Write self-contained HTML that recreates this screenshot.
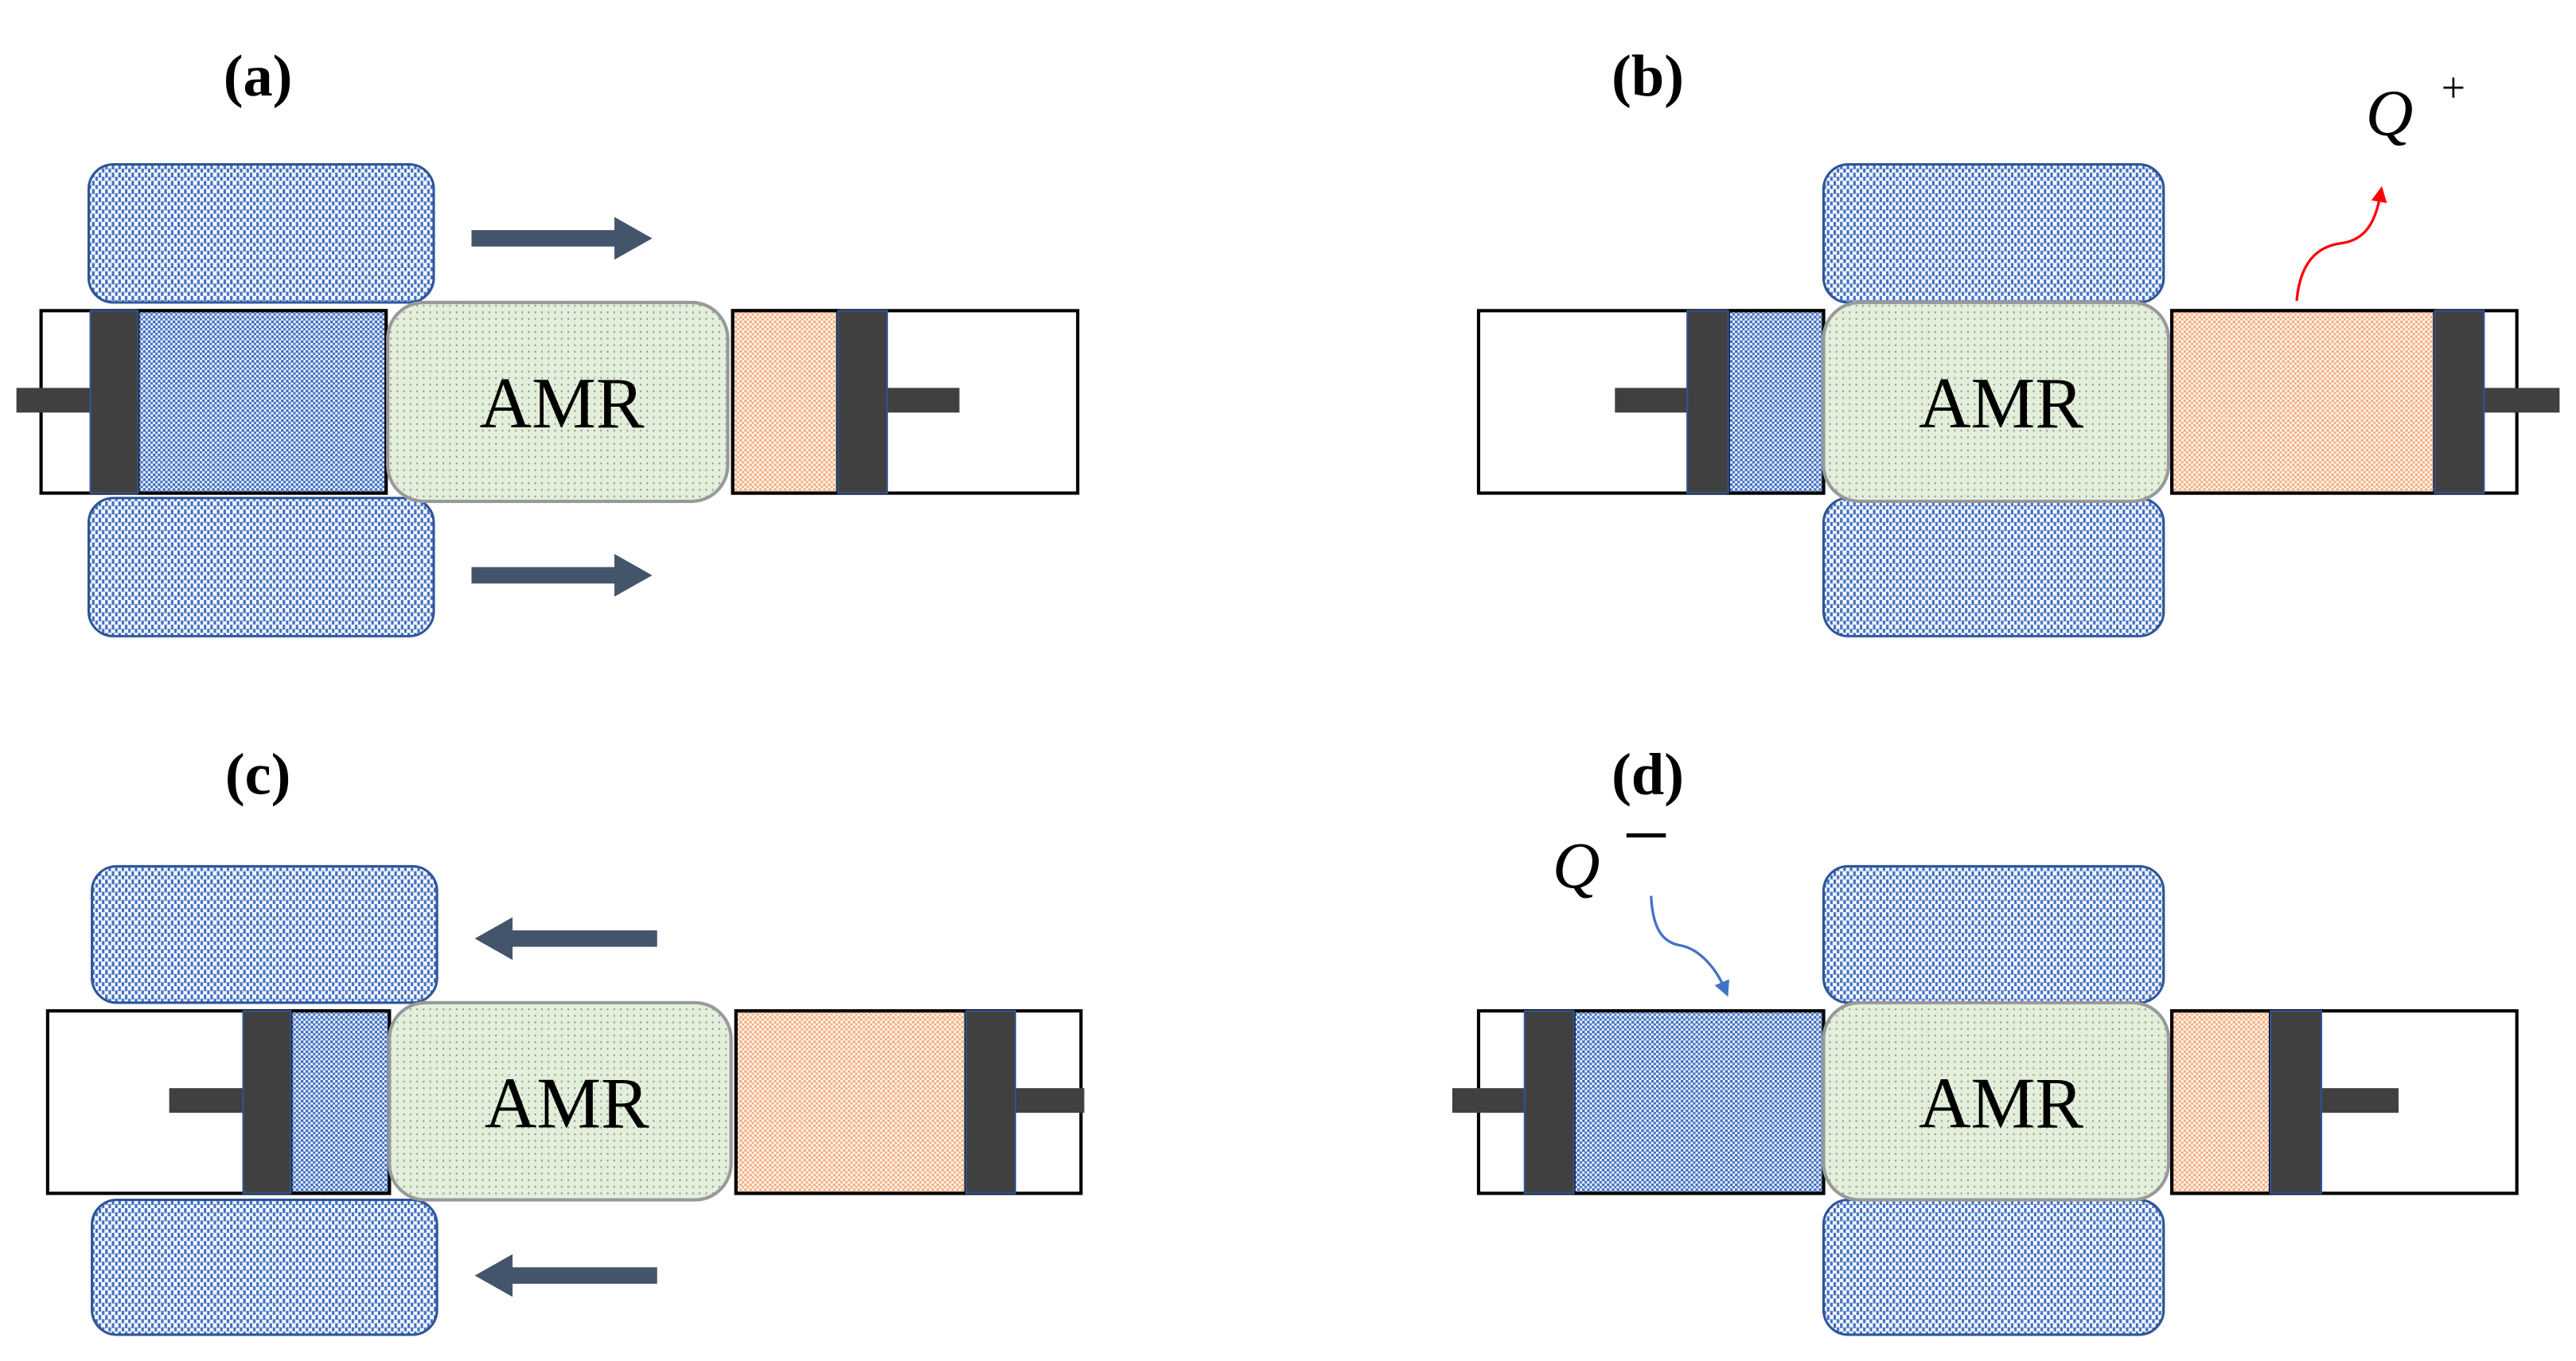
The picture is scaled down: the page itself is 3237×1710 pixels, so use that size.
<!DOCTYPE html>
<html><head><meta charset="utf-8"><style>
html,body{margin:0;padding:0;background:#fff;}
svg{display:block;}
</style></head><body>
<svg width="3237" height="1710" viewBox="0 0 1568 828" preserveAspectRatio="none" xmlns="http://www.w3.org/2000/svg">
<defs>
<pattern id="mag" width="4" height="5" patternUnits="userSpaceOnUse">
<rect width="4" height="5" fill="#fff"/>
<rect x="0" y="0" width="1.6" height="3" fill="#4472c4"/>
<rect x="2" y="2.5" width="1.6" height="3" fill="#4472c4"/>
</pattern>
<pattern id="bch" width="3" height="3" patternUnits="userSpaceOnUse">
<rect width="3" height="3" fill="#fff"/>
<rect x="0" y="0" width="1.7" height="1.7" fill="#4472c4"/>
<rect x="1.5" y="1.5" width="1.7" height="1.7" fill="#4472c4"/>
</pattern>
<pattern id="och" width="3" height="3" patternUnits="userSpaceOnUse">
<rect width="3" height="3" fill="#fff"/>
<rect x="0" y="0" width="1.7" height="1.7" fill="#f4b183"/>
<rect x="1.5" y="1.5" width="1.7" height="1.7" fill="#f4b183"/>
</pattern>
<pattern id="amr" width="4" height="4" patternUnits="userSpaceOnUse">
<rect width="4" height="4" fill="#e2efda"/>
<rect x="1.5" y="1.5" width="0.8" height="1" fill="#808080"/>
</pattern>
<marker id="ra" markerWidth="6" markerHeight="6" refX="3" refY="3" orient="auto" markerUnits="strokeWidth"><path d="M0,0 L6,3 L0,6 z" fill="#ff0000"/></marker>
<marker id="ba" markerWidth="6" markerHeight="6" refX="3" refY="3" orient="auto" markerUnits="strokeWidth"><path d="M0,0 L6,3 L0,6 z" fill="#4472c4"/></marker>
</defs>

<g font-family="Liberation Serif, serif">
<!-- (a) -->
<text x="157" y="58" font-size="36" font-weight="bold" text-anchor="middle">(a)</text>
<rect x="54" y="100" width="210" height="84" rx="15" fill="url(#mag)" stroke="#2f5597" stroke-width="1.5"/>
<rect x="54" y="303" width="210" height="84" rx="15" fill="url(#mag)" stroke="#2f5597" stroke-width="1.5"/>
<rect x="25" y="189" width="210" height="111" fill="#fff" stroke="#000" stroke-width="2"/>
<rect x="84" y="189" width="151" height="111" fill="url(#bch)" stroke="#000" stroke-width="2"/>
<rect x="10" y="236" width="46" height="15" fill="#404040"/>
<rect x="55" y="189" width="29" height="111" fill="#404040" stroke="#2f5597" stroke-width="1"/>
<rect x="446" y="189" width="210" height="111" fill="#fff" stroke="#000" stroke-width="2"/>
<rect x="446" y="189" width="64" height="111" fill="url(#och)" stroke="#000" stroke-width="2"/>
<rect x="538" y="236" width="46" height="15" fill="#404040"/>
<rect x="510" y="189" width="30" height="111" fill="#404040" stroke="#2f5597" stroke-width="1"/>
<rect x="236" y="184" width="207" height="121" rx="22" fill="url(#amr)" stroke="#999" stroke-width="2"/>
<text x="342" y="260" font-size="44" text-anchor="middle">AMR</text>
<rect x="287" y="140" width="88" height="10" fill="#44546a"/><path d="M374,132 L397,145 L374,158 z" fill="#44546a"/>
<rect x="287" y="345" width="88" height="10" fill="#44546a"/><path d="M374,337 L397,350 L374,363 z" fill="#44546a"/>

<!-- (b) -->
<text x="1003" y="58" font-size="36" font-weight="bold" text-anchor="middle">(b)</text>
<rect x="1110" y="100" width="207" height="84" rx="15" fill="url(#mag)" stroke="#2f5597" stroke-width="1.5"/>
<rect x="1110" y="303" width="207" height="84" rx="15" fill="url(#mag)" stroke="#2f5597" stroke-width="1.5"/>
<rect x="900" y="189" width="210" height="111" fill="#fff" stroke="#000" stroke-width="2"/>
<rect x="1052" y="189" width="58" height="111" fill="url(#bch)" stroke="#000" stroke-width="2"/>
<rect x="983" y="236" width="46" height="15" fill="#404040"/>
<rect x="1027" y="189" width="25" height="111" fill="#404040" stroke="#2f5597" stroke-width="1"/>
<rect x="1322" y="189" width="210" height="111" fill="#fff" stroke="#000" stroke-width="2"/>
<rect x="1322" y="189" width="160" height="111" fill="url(#och)" stroke="#000" stroke-width="2"/>
<rect x="1510" y="236" width="48" height="15" fill="#404040"/>
<rect x="1482" y="189" width="30" height="111" fill="#404040" stroke="#2f5597" stroke-width="1"/>
<rect x="1110" y="184" width="210" height="121" rx="22" fill="url(#amr)" stroke="#999" stroke-width="2"/>
<text x="1218" y="260" font-size="44" text-anchor="middle">AMR</text>
<text x="1440" y="82" font-size="40" font-style="italic">Q</text>
<text x="1486" y="62" font-size="26">+</text>
<path d="M1398,183 C1400,160 1410,150 1425,148 C1440,146 1446,135 1449,118" fill="none" stroke="#ff0000" stroke-width="1.6" marker-end="url(#ra)"/>

<!-- (c) -->
<text x="157" y="483" font-size="36" font-weight="bold" text-anchor="middle">(c)</text>
<rect x="56" y="527" width="210" height="83" rx="15" fill="url(#mag)" stroke="#2f5597" stroke-width="1.5"/>
<rect x="56" y="730" width="210" height="82" rx="15" fill="url(#mag)" stroke="#2f5597" stroke-width="1.5"/>
<rect x="29" y="615" width="208" height="111" fill="#fff" stroke="#000" stroke-width="2"/>
<rect x="177" y="615" width="60" height="111" fill="url(#bch)" stroke="#000" stroke-width="2"/>
<rect x="103" y="662" width="46" height="15" fill="#404040"/>
<rect x="148" y="615" width="29" height="111" fill="#404040" stroke="#2f5597" stroke-width="1"/>
<rect x="448" y="615" width="210" height="111" fill="#fff" stroke="#000" stroke-width="2"/>
<rect x="448" y="615" width="140" height="111" fill="url(#och)" stroke="#000" stroke-width="2"/>
<rect x="616" y="662" width="44" height="15" fill="#404040"/>
<rect x="588" y="615" width="30" height="111" fill="#404040" stroke="#2f5597" stroke-width="1"/>
<rect x="237" y="610" width="208" height="120" rx="22" fill="url(#amr)" stroke="#999" stroke-width="2"/>
<text x="345" y="686" font-size="44" text-anchor="middle">AMR</text>
<rect x="311" y="566" width="89" height="10" fill="#44546a"/><path d="M312,558 L289,571 L312,584 z" fill="#44546a"/>
<rect x="311" y="771" width="89" height="10" fill="#44546a"/><path d="M312,763 L289,776 L312,789 z" fill="#44546a"/>

<!-- (d) -->
<text x="1003" y="483" font-size="36" font-weight="bold" text-anchor="middle">(d)</text>
<rect x="1110" y="527" width="207" height="83" rx="15" fill="url(#mag)" stroke="#2f5597" stroke-width="1.5"/>
<rect x="1110" y="730" width="207" height="82" rx="15" fill="url(#mag)" stroke="#2f5597" stroke-width="1.5"/>
<rect x="900" y="615" width="210" height="111" fill="#fff" stroke="#000" stroke-width="2"/>
<rect x="958" y="615" width="152" height="111" fill="url(#bch)" stroke="#000" stroke-width="2"/>
<rect x="884" y="662" width="46" height="15" fill="#404040"/>
<rect x="928" y="615" width="30" height="111" fill="#404040" stroke="#2f5597" stroke-width="1"/>
<rect x="1322" y="615" width="210" height="111" fill="#fff" stroke="#000" stroke-width="2"/>
<rect x="1322" y="615" width="60" height="111" fill="url(#och)" stroke="#000" stroke-width="2"/>
<rect x="1411" y="662" width="49" height="15" fill="#404040"/>
<rect x="1382" y="615" width="31" height="111" fill="#404040" stroke="#2f5597" stroke-width="1"/>
<rect x="1110" y="610" width="210" height="120" rx="22" fill="url(#amr)" stroke="#999" stroke-width="2"/>
<text x="1218" y="686" font-size="44" text-anchor="middle">AMR</text>
<text x="945" y="540" font-size="40" font-style="italic">Q</text>
<rect x="990" y="507" width="24" height="2.5" fill="#000"/>
<path d="M1005,545 C1006,565 1012,573 1022,575 C1035,577 1045,590 1050,602" fill="none" stroke="#4472c4" stroke-width="1.6" marker-end="url(#ba)"/>
</g>
</svg>
</body></html>
